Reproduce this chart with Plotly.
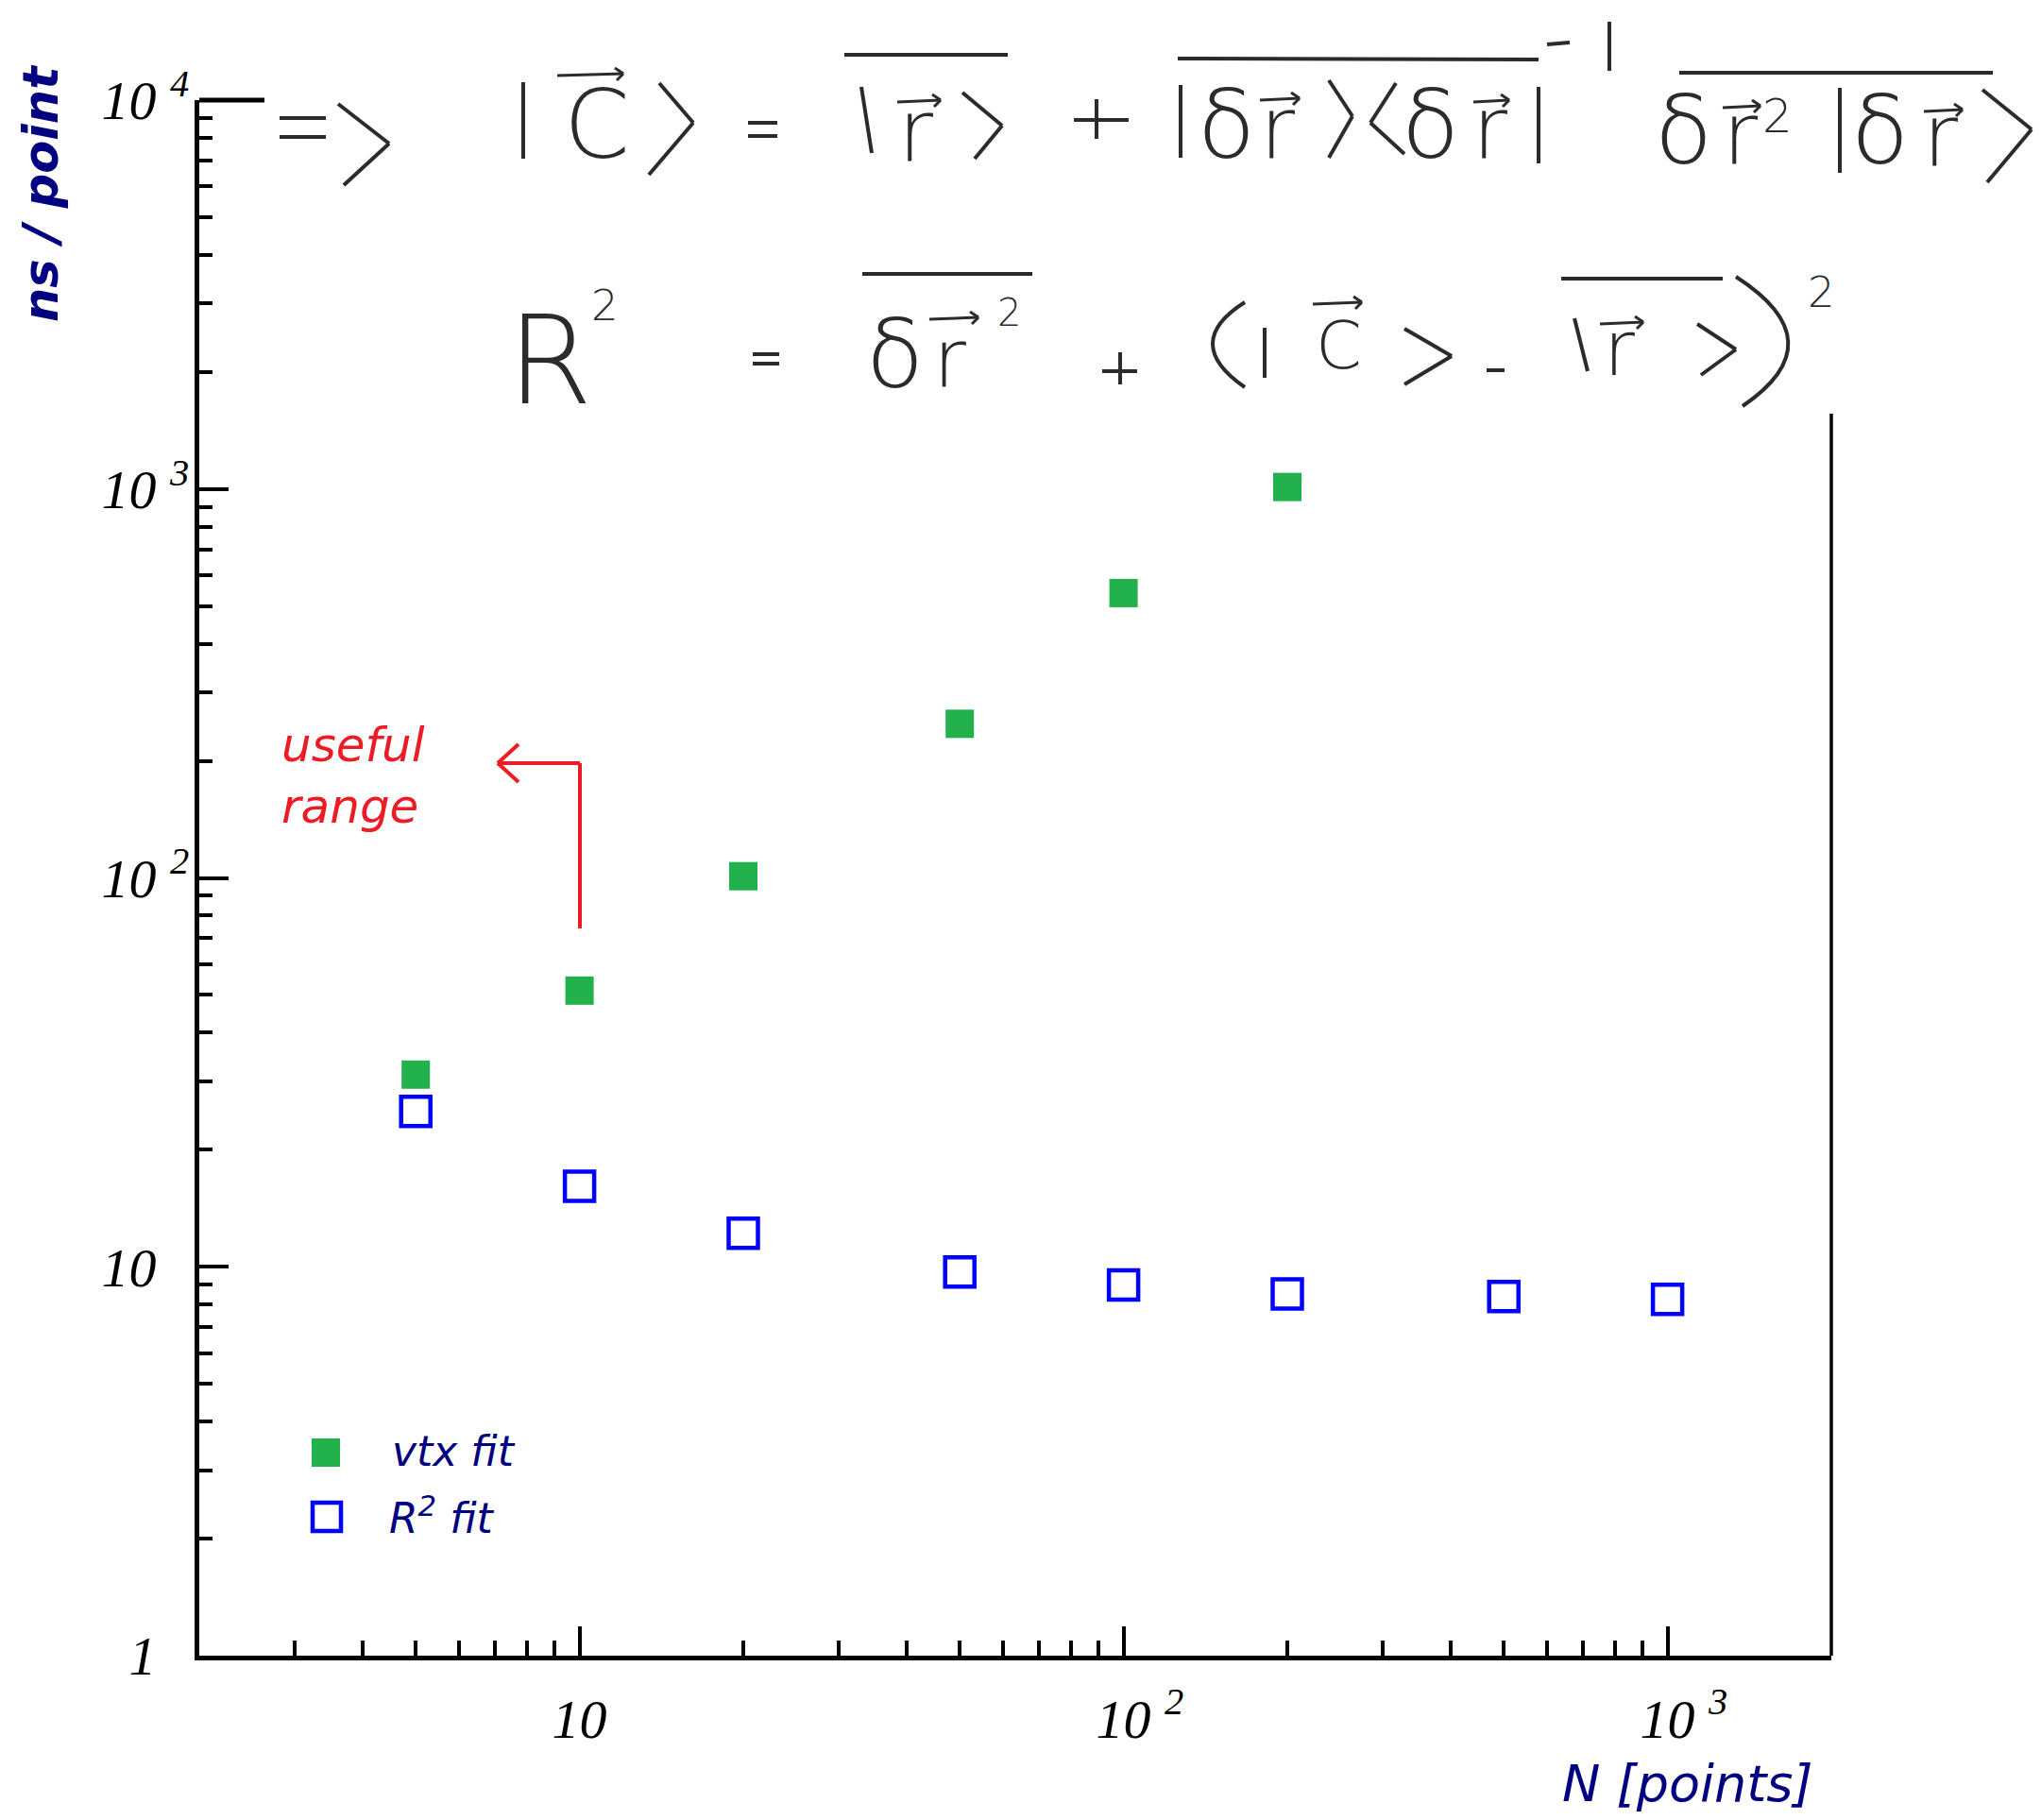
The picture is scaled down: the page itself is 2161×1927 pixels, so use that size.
import math
import plotly.graph_objects as go

# ---------------- data ----------------
N_vtx = [5, 10, 20, 50, 100, 200]
t_vtx = [31.2, 51.3, 101, 249, 540, 1012]
N_r2 = [5, 10, 20, 50, 100, 200, 500, 1000]
t_r2 = [25.1, 16.1, 12.2, 9.7, 8.98, 8.51, 8.38, 8.25]

x_major = [10, 100, 1000]
x_major_text = ["10",
                "<sup>\u00a0\u00a0</sup>\u00a010\u00a0<sup>2</sup>",
                "<sup>\u00a0\u00a0</sup>\u00a010\u00a0<sup>3</sup>"]
y_major = [1, 10, 100, 1000, 10000]
y_major_text = ["1\u00a0<sup>\u00a0\u00a0</sup>",
                "10\u00a0<sup>\u00a0\u00a0</sup>",
                "10\u00a0<sup>2</sup>",
                "10\u00a0<sup>3</sup>",
                "10\u00a0<sup>4</sup>"]
x_minor = [m * 10 ** k for k in range(0, 4) for m in range(2, 10) if 2 < m * 10 ** k < 2000]
y_minor = [m * 10 ** k for k in range(0, 4) for m in range(2, 10)]

series_names = ["vtx fit", "R<sup>2</sup> fit"]

# ---------------- geometry (page pixels; the page body has an 8px margin) ----------------
OFF = 8
W, H = 2161 - 2 * OFF, 1927 - 2 * OFF
PL, PR, PT, PB = 211, 1939, 106, 1753          # plot area in page pixels
L, T = PL - OFF, PT - OFF
R, B = W - (PR - OFF), H - (PB - OFF)
PW, PH = PR - PL, PB - PT


def px(x):
    return (x - PL) / PW


def py(y):
    return (PB - y) / PH


GREEN = "#22b14c"
BLUE = "#0000ff"
RED = "#ed1c24"
NAVY = "#000080"
INK = "#2b2b2b"

fig = go.Figure()
fig.add_trace(go.Scatter(x=N_vtx, y=t_vtx, mode="markers", name="vtx fit",
                         marker=dict(symbol="square", size=30, color=GREEN, line=dict(width=0)),
                         showlegend=False))
fig.add_trace(go.Scatter(x=N_r2, y=t_r2, mode="markers", name="R2 fit",
                         marker=dict(symbol="square-open", size=31, color=BLUE, line=dict(width=4.5)),
                         showlegend=False))

tickfont = dict(family="Liberation Serif", size=58, color="black", style="italic")

fig.update_layout(
    width=W, height=H,
    margin=dict(l=L, r=R, t=T, b=B, pad=0),
    paper_bgcolor="white", plot_bgcolor="white",
    xaxis=dict(type="log", range=[math.log10(2), math.log10(2000)],
               showline=True, linecolor="black", linewidth=5,
               ticks="inside", ticklen=31, tickwidth=4, tickcolor="black",
               tickmode="array", tickvals=x_major, ticktext=x_major_text,
               tickfont=tickfont, showgrid=False, zeroline=False,
               ticklabelstandoff=12,
               minor=dict(tickmode="array", tickvals=x_minor, ticks="inside",
                          ticklen=16, tickwidth=4, tickcolor="black", showgrid=False)),
    yaxis=dict(type="log", range=[0, 4],
               showline=True, linecolor="black", linewidth=5,
               ticks="inside", ticklen=31, tickwidth=4, tickcolor="black",
               tickmode="array", tickvals=y_major, ticktext=y_major_text,
               tickfont=tickfont, showgrid=False, zeroline=False,
               ticklabelstandoff=-6,
               minor=dict(tickmode="array", tickvals=y_minor, ticks="inside",
                          ticklen=14, tickwidth=4, tickcolor="black", showgrid=False)),
)

shapes = []


def seg(pts, color=INK, width=4):
    for (x0, y0), (x1, y1) in zip(pts[:-1], pts[1:]):
        shapes.append(dict(type="line", xref="paper", yref="paper",
                           x0=px(x0), y0=py(y0), x1=px(x1), y1=py(y1),
                           line=dict(color=color, width=width)))


def curve(p0, c, p1, width=4):
    path = "M %f,%f Q %f,%f %f,%f" % (px(p0[0]), py(p0[1]), px(c[0]), py(c[1]), px(p1[0]), py(p1[1]))
    shapes.append(dict(type="path", xref="paper", yref="paper", path=path,
                       line=dict(color=INK, width=width)))


def vec(x0, x1, y):
    seg([(x0, y), (x1, y - 2)], width=3)
    seg([(x1 - 9, y - 8), (x1, y - 2), (x1 - 7, y + 5)], width=3)


# right frame line (upper part hidden by the handwritten notes) and top-left stub
seg([(PR, PB), (PR, 438)], color="black", width=3.5)
seg([(PL, PT), (280, PT)], color="black", width=5)
# red arrow "useful range"
seg([(614, 983), (614, 808), (527, 808)], color=RED, width=4)
seg([(549, 788), (527, 808), (549, 828)], color=RED, width=4)
# legend keys
shapes.append(dict(type="rect", xref="paper", yref="paper",
                   x0=px(330), x1=px(360), y0=py(1553), y1=py(1523),
                   fillcolor=GREEN, line=dict(width=0)))
shapes.append(dict(type="rect", xref="paper", yref="paper",
                   x0=px(331), x1=px(361), y0=py(1621), y1=py(1591),
                   fillcolor="rgba(0,0,0,0)", line=dict(color=BLUE, width=4.5)))

# ---- handwritten formulas: strokes ----
# line 1
seg([(296, 125), (345, 125)]); seg([(296, 145), (345, 145)])
seg([(358, 110), (412, 152), (364, 196)])
seg([(554, 87), (554, 168)])
vec(590, 660, 80)
seg([(698, 88), (734, 130), (687, 185)])
seg([(792, 130), (823, 130)]); seg([(792, 144), (823, 144)])
seg([(894, 58), (1067, 58)])
seg([(912, 92), (923, 162)])
vec(950, 996, 108)
seg([(1019, 98), (1061, 133), (1032, 168)])
seg([(1137, 127), (1195, 127)]); seg([(1161, 105), (1161, 147)])
seg([(1247, 62), (1629, 63)])
seg([(1250, 90), (1250, 167)])
vec(1334, 1376, 106)
seg([(1407, 85), (1432, 123), (1407, 167)])
seg([(1478, 88), (1451, 130), (1487, 163)])
vec(1560, 1598, 108)
seg([(1629, 92), (1629, 173)])
seg([(1638, 47), (1662, 45)]); seg([(1704, 23), (1704, 75)])
seg([(1778, 77), (2110, 77)])
vec(1824, 1864, 114)
seg([(1948, 93), (1948, 183)])
vec(2037, 2078, 118)
seg([(2099, 95), (2151, 137), (2104, 193)])
# line 2
seg([(797, 375), (825, 375)]); seg([(797, 385), (825, 385)])
seg([(913, 290), (1093, 290)])
vec(984, 1036, 338)
seg([(1167, 393), (1204, 393)]); seg([(1186, 373), (1186, 407)])
curve((1318, 320), (1250, 363), (1318, 410))
seg([(1339, 347), (1339, 400)])
vec(1390, 1442, 322)
seg([(1487, 348), (1537, 377), (1487, 407)])
seg([(1574, 392), (1593, 392)])
seg([(1653, 295), (1824, 295)])
seg([(1667, 337), (1681, 393)])
vec(1694, 1740, 343)
seg([(1797, 343), (1838, 370), (1801, 397)])
curve((1838, 293), (1945, 362), (1845, 430))

fig.update_layout(shapes=shapes)

ann = []


def add_text(text, x, y, size, color, xanchor="center", yanchor="middle",
             family="DejaVu Sans", style="italic", weight="normal", angle=0, align="center"):
    ann.append(dict(text=text, xref="paper", yref="paper", x=px(x), y=py(y),
                    xanchor=xanchor, yanchor=yanchor, showarrow=False, textangle=angle,
                    align=align,
                    font=dict(family=family, size=size, color=color, style=style, weight=weight)))


def glyph(ch, cx, baseline, size):
    # centre of the text box sits ~0.346 em above the baseline for DejaVu Sans
    add_text(ch, cx, baseline - 0.346 * size, size, INK, style="normal", weight=200)


# axis titles
add_text("ns / point", 44, 205, 51, NAVY, weight="bold", angle=-90)
add_text("N [points]", 1922, 1888, 54, NAVY, xanchor="right")
# legend labels
add_text(series_names[0], 413, 1536, 44, NAVY, xanchor="left")
add_text(series_names[1], 410, 1604, 44, NAVY, xanchor="left")
# useful range
add_text("useful<br>range", 296, 822, 50, RED, xanchor="left", align="left")

# handwritten formulas: letters
glyph("C", 632, 167, 100)
glyph("r", 969, 170, 90)
glyph("\u03b4", 1298, 167, 100)
glyph("r", 1352, 167, 90)
glyph("\u03b4", 1514, 167, 100)
glyph("r", 1577, 167, 90)
glyph("\u03b4", 1782, 173, 100)
glyph("r", 1842, 173, 90)
glyph("2", 1882, 140, 50)
glyph("\u03b4", 1990, 173, 100)
glyph("r", 2055, 175, 90)

glyph("R", 582, 427, 130)
glyph("2", 640, 339, 45)
glyph("\u03b4", 947, 410, 100)
glyph("r", 1005, 410, 85)
glyph("2", 1068, 345, 40)
glyph("C", 1417, 390, 70)
glyph("r", 1714, 397, 80)
glyph("2", 1928, 325, 45)

fig.update_layout(annotations=ann)

fig.write_html("out.html")
